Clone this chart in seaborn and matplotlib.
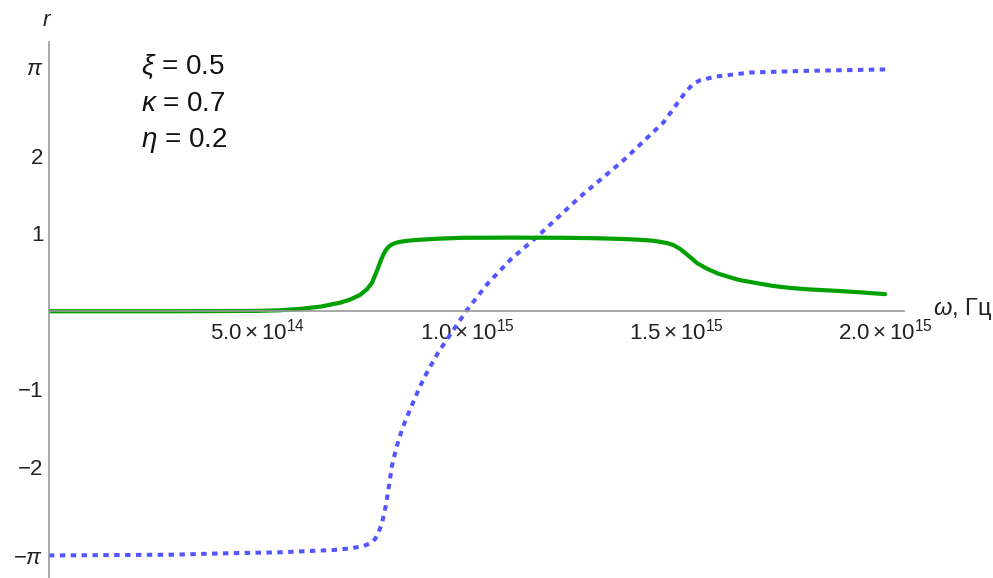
import numpy as np
import pandas as pd
import matplotlib
matplotlib.use("Agg")
import matplotlib.pyplot as plt
import seaborn as sns

# frequency points (units of 1e14 Hz) and curve values
omega_green = [0, 3, 5, 5.5, 6, 6.5, 6.96, 7.2, 7.44, 7.6, 7.72, 7.8, 7.88, 7.95,
               8.0, 8.05, 8.1, 8.16, 8.23, 8.3, 8.4, 8.6, 8.88, 9.3, 9.9, 11.0,
               12.3, 13.0, 13.7, 14.1, 14.4, 14.6, 14.8, 14.94, 15.1, 15.33,
               15.5, 15.73, 16.0, 16.3, 16.53, 17.0, 17.33, 17.73, 18.13, 18.92,
               19.5, 20.0]
r_abs = [0.0, 0.0, 0.005, 0.012, 0.03, 0.06, 0.11, 0.15, 0.21, 0.28, 0.36, 0.46,
         0.57, 0.67, 0.73, 0.78, 0.815, 0.845, 0.865, 0.88, 0.893, 0.908, 0.92,
         0.933, 0.945, 0.947, 0.945, 0.94, 0.93, 0.92, 0.91, 0.895, 0.875, 0.85,
         0.80, 0.70, 0.62, 0.55, 0.485, 0.435, 0.40, 0.355, 0.325, 0.30, 0.283,
         0.26, 0.24, 0.22]

omega_blue = [0, 3, 4.4, 5.5, 6.8, 7.2, 7.52, 7.7, 7.8, 7.88, 7.96, 8.02, 8.08,
              8.14, 8.2, 8.28, 8.36, 8.46, 8.56, 8.68, 8.8, 8.95, 9.11, 9.3,
              9.51, 9.75, 9.99, 10.5, 11.07, 11.67, 12.7, 13.74, 14.7, 15.2,
              15.4, 15.57, 15.97, 16.77, 18.0, 20.0]
r_phase = [-3.14, -3.13, -3.11, -3.10, -3.07, -3.05, -3.02, -2.98, -2.93, -2.85,
           -2.73, -2.60, -2.43, -2.22, -2.0, -1.82, -1.66, -1.50, -1.36, -1.21,
           -1.06, -0.88, -0.72, -0.54, -0.37, -0.18, 0.01, 0.36, 0.68, 0.955,
           1.47, 1.94, 2.43, 2.80, 2.92, 2.97, 3.02, 3.07, 3.09, 3.11]

ytick_vals = [-np.pi, -2, -1, 1, 2, np.pi]
ytick_labels = [r"$-\pi$", "\u22122", "\u22121", "1", "2", r"$\pi$"]
xtick_vals = [5e14, 1e15, 1.5e15, 2e15]
xtick_labels = [r"$5.0\times10^{14}$", r"$1.0\times10^{15}$",
                r"$1.5\times10^{15}$", r"$2.0\times10^{15}$"]
params = [r"$\xi$ = 0.5", r"$\kappa$ = 0.7", r"$\eta$ = 0.2"]

df_g = pd.DataFrame({"omega": np.array(omega_green) * 1e14, "r": r_abs})
df_b = pd.DataFrame({"omega": np.array(omega_blue) * 1e14, "r": r_phase})

sns.set_style("white")
plt.rcParams["font.family"] = ["Liberation Sans", "DejaVu Sans"]
plt.rcParams["mathtext.fontset"] = "custom"
plt.rcParams["mathtext.rm"] = "Liberation Sans"
plt.rcParams["mathtext.it"] = "Liberation Sans:italic"

fig = plt.figure(figsize=(9.93, 5.78), dpi=100)
ax = fig.add_axes([0.0493, 0.0, 0.861, 0.927])

sns.lineplot(data=df_b, x="omega", y="r", ax=ax, color="#5555ff", lw=2.9,
             linestyle=(0, (1.35, 1.35)), dash_capstyle="butt")
sns.lineplot(data=df_g, x="omega", y="r", ax=ax, color="#00a000", lw=3.0)

ax.set_xlim(0, 2.045e15)
ax.set_ylim(-3.43, 3.46)

for s in ["top", "right"]:
    ax.spines[s].set_visible(False)
ax.spines["bottom"].set_position(("data", 0))
ax.spines["left"].set_position(("data", 0))
for s in ["bottom", "left"]:
    ax.spines[s].set_color("#999999")
    ax.spines[s].set_linewidth(1.2)

ax.set_xticks(xtick_vals)
ax.set_xticklabels(xtick_labels)
ax.set_xticks(np.arange(1e14, 2.01e15, 1e14), minor=True)
ax.set_yticks(ytick_vals)
ax.set_yticklabels(ytick_labels)
ax.tick_params(axis="both", which="major", direction="in", length=5,
               color="#999999", labelsize=16, labelcolor="#222222")
ax.tick_params(axis="x", which="minor", direction="in", length=3, color="#999999")
ax.tick_params(axis="x", which="major", pad=5)
ax.tick_params(axis="y", which="major", pad=4)

ax.set_xlabel("")
ax.set_ylabel("")
fig.text(0.940, 0.465, r"$\omega$, Гц", fontsize=17, color="#222222",
         ha="left", va="center")
fig.text(0.047, 0.965, r"$r$", fontsize=16, color="#222222", ha="center",
         va="center")

for i, t in enumerate(params):
    fig.text(0.142, 0.884 - i * 0.0635, t, fontsize=20, color="#111111",
             ha="left", va="center")

fig.savefig("out.png", dpi=100)
